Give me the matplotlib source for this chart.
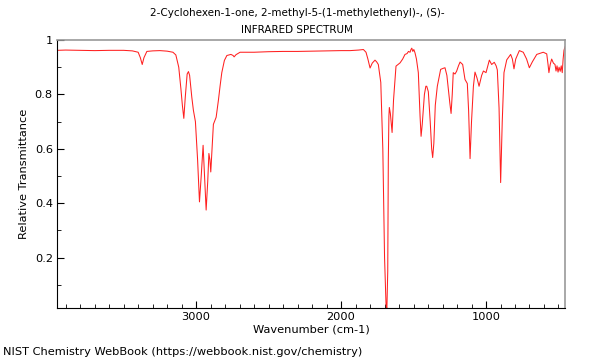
import matplotlib
matplotlib.use("Agg")
import matplotlib.pyplot as plt
from matplotlib.ticker import MultipleLocator, FuncFormatter

# spectrum (wavenumber in cm-1, relative transmittance)
wavenumber = [3960, 3900, 3800, 3700, 3600, 3500, 3440, 3400, 3385, 3372, 3360, 3340,
              3300, 3250, 3200, 3160, 3140, 3120, 3105, 3095, 3085, 3075, 3062, 3053,
              3045, 3030, 3019, 3005, 2990, 2977, 2965, 2952, 2940, 2931, 2920, 2912,
              2905, 2899, 2890, 2881, 2862, 2846, 2835, 2823, 2805, 2788, 2760, 2745,
              2738, 2725, 2697, 2600, 2500, 2400, 2300, 2200, 2100, 2000, 1938, 1880,
              1846, 1828, 1815, 1800, 1785, 1766, 1755, 1743, 1726, 1712, 1700, 1690,
              1684, 1678, 1674, 1670, 1667, 1660, 1648, 1638, 1621, 1593, 1575, 1559,
              1545, 1535, 1524, 1518, 1512, 1505, 1498, 1490, 1480, 1467, 1455, 1448,
              1440, 1425, 1415, 1409, 1398, 1385, 1375, 1368, 1360, 1350, 1336, 1313,
              1295, 1283, 1270, 1260, 1250, 1241, 1233, 1226, 1214, 1203, 1190, 1179,
              1161, 1145, 1129, 1120, 1110, 1100, 1087, 1076, 1062, 1048, 1030, 1018,
              1000, 990, 977, 961, 943, 930, 922, 910, 899, 888, 876, 857,
              830, 818, 807, 795, 770, 743, 720, 701, 680, 650, 605, 581,
              572, 566, 557, 547, 535, 524, 517, 510, 503, 496, 488, 481,
              474, 468, 462, 455]
transmittance = [0.962, 0.963, 0.962, 0.961, 0.962, 0.962, 0.960, 0.955, 0.935, 0.910, 0.935, 0.958,
                 0.960, 0.961, 0.959, 0.955, 0.945, 0.900, 0.820, 0.760, 0.712, 0.790, 0.875, 0.884,
                 0.870, 0.790, 0.742, 0.700, 0.560, 0.405, 0.500, 0.613, 0.480, 0.375, 0.480, 0.583,
                 0.560, 0.515, 0.600, 0.690, 0.716, 0.780, 0.830, 0.880, 0.925, 0.943, 0.947, 0.943,
                 0.938, 0.946, 0.955, 0.955, 0.957, 0.958, 0.958, 0.959, 0.960, 0.961, 0.961, 0.963,
                 0.965, 0.955, 0.930, 0.897, 0.915, 0.926, 0.920, 0.910, 0.844, 0.600, 0.200, 0.030,
                 0.010, 0.150, 0.560, 0.720, 0.752, 0.730, 0.660, 0.780, 0.904, 0.916, 0.930, 0.947,
                 0.950, 0.958, 0.955, 0.965, 0.970, 0.958, 0.965, 0.953, 0.930, 0.880, 0.720, 0.646,
                 0.690, 0.800, 0.830, 0.830, 0.810, 0.700, 0.600, 0.568, 0.620, 0.760, 0.830, 0.892,
                 0.896, 0.898, 0.870, 0.818, 0.770, 0.730, 0.800, 0.880, 0.875, 0.885, 0.905, 0.919,
                 0.910, 0.855, 0.840, 0.740, 0.564, 0.700, 0.830, 0.882, 0.860, 0.830, 0.870, 0.886,
                 0.880, 0.900, 0.926, 0.910, 0.918, 0.905, 0.890, 0.750, 0.476, 0.700, 0.880, 0.927,
                 0.947, 0.930, 0.894, 0.930, 0.961, 0.955, 0.930, 0.898, 0.920, 0.947, 0.955, 0.949,
                 0.910, 0.880, 0.910, 0.930, 0.915, 0.910, 0.886, 0.905, 0.882, 0.900, 0.885, 0.905,
                 0.880, 0.930, 0.962, 0.975]

fig = plt.figure(figsize=(6, 3.6), dpi=100)
ax = fig.add_axes([57/600, 1 - 308/360, 508/600, 268/360])

ax.plot(wavenumber, transmittance, color="#ff2020", linewidth=0.75)

ax.set_xlim(3960, 455)
ax.set_ylim(0.015, 1.0)

ax.xaxis.set_major_locator(MultipleLocator(1000))
ax.xaxis.set_minor_locator(MultipleLocator(100))
ax.yaxis.set_major_locator(MultipleLocator(0.2))
ax.yaxis.set_minor_locator(MultipleLocator(0.1))
ax.yaxis.set_major_formatter(FuncFormatter(lambda v, p: "1" if abs(v - 1) < 1e-9 else f"{v:.1f}"))
ax.tick_params(which="both", direction="in", labelsize=8.2, top=False, right=False)
ax.tick_params(which="major", length=5, pad=3)
ax.tick_params(which="minor", length=3)

for side in ["top", "right"]:
    ax.spines[side].set_color("#999999")
    ax.spines[side].set_linewidth(1.2)
for side in ["left", "bottom"]:
    ax.spines[side].set_color("black")
    ax.spines[side].set_linewidth(0.8)

ax.set_xlabel("Wavenumber (cm-1)", fontsize=8.2, labelpad=2)
ax.set_ylabel("Relative Transmittance", fontsize=8.2, labelpad=4)

fig.text(0.495, 1 - 13/360, "2-Cyclohexen-1-one, 2-methyl-5-(1-methylethenyl)-, (S)-",
         ha="center", va="center", fontsize=7.5)
fig.text(0.495, 1 - 30/360, "INFRARED SPECTRUM", ha="center", va="center", fontsize=7.5)
fig.text(3/600, 1 - 352/360, "NIST Chemistry WebBook (https://webbook.nist.gov/chemistry)",
         ha="left", va="center", fontsize=8.2)

fig.savefig("out.png", dpi=100)
